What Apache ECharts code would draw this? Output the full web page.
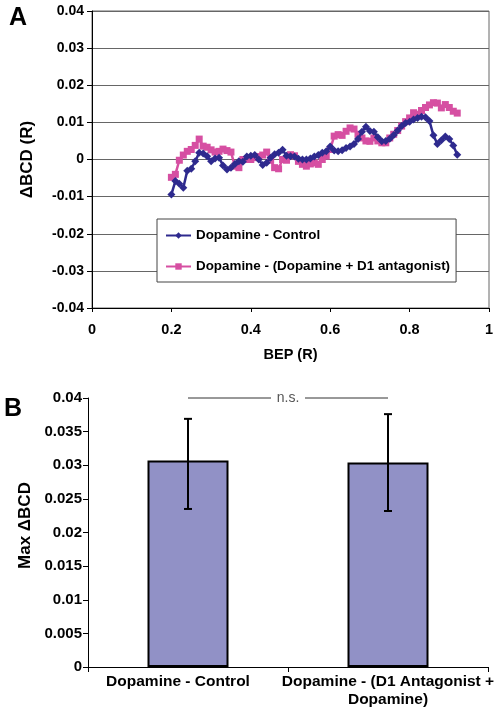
<!DOCTYPE html>
<html>
<head>
<meta charset="utf-8">
<script src="https://cdn.jsdelivr.net/npm/echarts@6/dist/echarts.min.js"></script>
<style>html,body{margin:0;padding:0;background:#fff;}#c{width:498px;height:712px;}</style>
</head>
<body>
<div id="c"></div>
<script>
// ---- Panel A data ----
var bepX = [0.20,0.21,0.22,0.23,0.24,0.25,0.26,0.27,0.28,0.29,0.30,0.31,0.32,0.33,0.34,0.35,0.36,0.37,0.38,0.39,0.40,0.41,0.42,0.43,0.44,0.45,0.46,0.47,0.48,0.49,0.50,0.51,0.52,0.53,0.54,0.55,0.56,0.57,0.58,0.59,0.60,0.61,0.62,0.63,0.64,0.65,0.66,0.67,0.68,0.69,0.70,0.71,0.72,0.73,0.74,0.75,0.76,0.77,0.78,0.79,0.80,0.81,0.82,0.83,0.84,0.85,0.86,0.87,0.88,0.89,0.90,0.91,0.92];
var controlY = [-0.0094,-0.0058,-0.0065,-0.0076,-0.0030,-0.0025,-0.0005,0.0018,0.0016,0.0009,-0.0005,0.0003,0.0005,-0.0016,-0.0027,-0.0022,-0.0012,-0.0005,-0.0006,0.0008,0.0010,0.0012,0.0000,-0.0015,-0.0009,0.0005,0.0014,0.0018,0.0026,0.0010,0.0009,0.0008,0.0002,0.0000,0.0000,0.0003,0.0008,0.0012,0.0018,0.0022,0.0035,0.0024,0.0022,0.0025,0.0031,0.0035,0.0042,0.0055,0.0075,0.0088,0.0077,0.0075,0.0060,0.0049,0.0050,0.0056,0.0066,0.0078,0.0090,0.0098,0.0102,0.0108,0.0112,0.0115,0.0114,0.0104,0.0065,0.0042,0.0052,0.0062,0.0055,0.0038,0.0013];
var antagonistY = [-0.0048,-0.0040,-0.0002,0.0012,0.0022,0.0027,0.0038,0.0055,0.0036,0.0033,0.0026,0.0020,0.0022,0.0028,0.0024,0.0020,-0.0018,-0.0022,0.0000,0.0000,0.0000,0.0005,0.0008,0.0012,0.0020,-0.0002,-0.0022,-0.0025,0.0000,-0.0002,0.0013,0.0010,-0.0005,-0.0013,-0.0018,-0.0012,-0.0009,-0.0013,0.0000,0.0009,0.0027,0.0063,0.0067,0.0065,0.0076,0.0085,0.0082,0.0068,0.0058,0.0050,0.0049,0.0058,0.0050,0.0045,0.0045,0.0058,0.0068,0.0078,0.0090,0.0102,0.0112,0.0126,0.0122,0.0132,0.0140,0.0147,0.0153,0.0152,0.0139,0.0148,0.0140,0.0130,0.0125];
var seriesNamesA = ['Dopamine - Control', 'Dopamine - (Dopamine + D1 antagonist)'];

// ---- Panel B data ----
var barCategories = ['Dopamine - Control', 'Dopamine - (D1 Antagonist +\nDopamine)'];
var barValues = [0.0307, 0.0304];
var errLow = [0.0235, 0.0232];
var errHigh = [0.0369, 0.0376];
var sigLabel = 'n.s.';

function zip(xs, ys){ var out=[]; for(var i=0;i<xs.length;i++){ out.push([xs[i], ys[i]]); } return out; }

var FONT = 'Liberation Sans, Arial, sans-serif';
var chart = echarts.init(document.getElementById('c'), null, {renderer:'canvas'});

var errData = barValues.map(function(v,i){ return [i, v, errLow[i], errHigh[i]]; });

var option = {
  animation: false,
  backgroundColor: '#ffffff',
  textStyle: {fontFamily: FONT},
  graphic: [
    {type:'text', left: 9, top: 6, style:{text:'A', font:'bold 25px ' + FONT, fill:'#000'}},
    {type:'text', left: 4, top: 397, style:{text:'B', font:'bold 25px ' + FONT, fill:'#000'}}
  ],
  legend: {
    data: seriesNamesA,
    orient: 'vertical',
    left: 157, top: 219,
    backgroundColor: '#fff',
    borderColor: '#444', borderWidth: 1,
    padding: [10, 6, 9, 8],
    itemGap: 18,
    itemWidth: 25, itemHeight: 8,
    textStyle: {fontFamily: FONT, fontWeight:'bold', fontSize: 13.4, color:'#000'}
  },
  grid: [
    {left: 92, top: 11, width: 397, height: 297, show: true, borderColor: '#666', borderWidth: 1, backgroundColor:'transparent'},
    {left: 88, top: 398, width: 400, height: 269}
  ],
  xAxis: [
    {
      gridIndex: 0, type: 'value', min: 0, max: 1, interval: 0.2,
      name: 'BEP (R)', nameLocation: 'middle', nameGap: 39,
      nameTextStyle: {fontFamily: FONT, fontWeight:'bold', fontSize: 14.5, color:'#000'},
      axisLine: {show: true, onZero: false, lineStyle: {color:'#000', width: 1}},
      axisTick: {show: true, length: 4, lineStyle: {color:'#000'}},
      axisLabel: {margin: 14, fontFamily: FONT, fontWeight:'bold', fontSize: 14.5, color:'#000'},
      splitLine: {show: false}
    },
    {
      gridIndex: 1, type: 'category', data: barCategories,
      axisLine: {show: true, lineStyle: {color:'#000', width: 1}},
      axisTick: {show: true, length: 5, alignWithLabel: false, lineStyle: {color:'#000'}},
      axisLabel: {
        margin: 6, interval: 0, fontFamily: FONT, fontWeight:'bold', fontSize: 15.5, color:'#000', lineHeight: 18,
        formatter: function(v, i){ return i === 0 ? '{a|' + v + '}' : v; },
        rich: {a: {fontFamily: FONT, fontWeight:'bold', fontSize: 15.5, color:'#000', padding:[0,20,0,0]}}
      },
      splitLine: {show: false}
    }
  ],
  yAxis: [
    {
      gridIndex: 0, type: 'value', min: -0.04, max: 0.04, interval: 0.01,
      name: 'ΔBCD (R)', nameLocation: 'middle', nameGap: 56, nameRotate: 90,
      nameTextStyle: {fontFamily: FONT, fontWeight:'bold', fontSize: 17, color:'#000'},
      axisLine: {show: true, onZero: false, lineStyle: {color:'#000', width: 1}},
      axisTick: {show: true, length: 5, lineStyle: {color:'#000'}},
      axisLabel: {margin: 8, fontFamily: FONT, fontWeight:'bold', fontSize: 14, color:'#000'},
      splitLine: {show: true, lineStyle: {color:'#666', width: 1}}
    },
    {
      gridIndex: 1, type: 'value', min: 0, max: 0.04, interval: 0.005,
      name: 'Max ΔBCD', nameLocation: 'middle', nameGap: 49, nameRotate: 90,
      nameTextStyle: {fontFamily: FONT, fontWeight:'bold', fontSize: 17, color:'#000', padding:[0,0,0,14]},
      axisLine: {show: true, lineStyle: {color:'#000', width: 1}},
      axisTick: {show: true, length: 5, lineStyle: {color:'#000'}},
      axisLabel: {margin: 6, fontFamily: FONT, fontWeight:'bold', fontSize: 15, color:'#000'},
      splitLine: {show: false}
    }
  ],
  series: [
    {
      name: seriesNamesA[0], type: 'line', xAxisIndex: 0, yAxisIndex: 0,
      data: zip(bepX, controlY),
      symbol: 'diamond', symbolSize: 8, showSymbol: true,
      lineStyle: {color:'#2E2A8E', width: 2.5},
      itemStyle: {color:'#2E2A8E'},
      z: 3
    },
    {
      name: seriesNamesA[1], type: 'line', xAxisIndex: 0, yAxisIndex: 0,
      data: zip(bepX, antagonistY),
      symbol: 'rect', symbolSize: 7, showSymbol: true,
      lineStyle: {color:'#D64FA2', width: 2.5},
      itemStyle: {color:'#D64FA2'},
      z: 2
    },
    {
      type: 'bar', xAxisIndex: 1, yAxisIndex: 1,
      data: barValues, barWidth: 81,
      itemStyle: {color:'#9191C6', borderColor:'#000', borderWidth: 2},
      z: 2
    },
    {
      type: 'custom', xAxisIndex: 1, yAxisIndex: 1,
      data: errData,
      z: 5,
      renderItem: function(params, api){
        var x = api.value(0);
        var lo = api.coord([x, api.value(2)]);
        var hi = api.coord([x, api.value(3)]);
        var cw = 4;
        var st = {stroke:'#000', lineWidth: 2};
        return {type:'group', children:[
          {type:'line', shape:{x1:lo[0], y1:lo[1], x2:hi[0], y2:hi[1]}, style: st},
          {type:'line', shape:{x1:lo[0]-cw, y1:lo[1], x2:lo[0]+cw, y2:lo[1]}, style: st},
          {type:'line', shape:{x1:hi[0]-cw, y1:hi[1], x2:hi[0]+cw, y2:hi[1]}, style: st}
        ]};
      }
    },
    {
      type: 'custom', xAxisIndex: 1, yAxisIndex: 1,
      data: [[0, 1, 0.04]],
      z: 5,
      renderItem: function(params, api){
        var a = api.coord([api.value(0), api.value(2)]);
        var b = api.coord([api.value(1), api.value(2)]);
        var mid = (a[0] + b[0]) / 2;
        var gap = 17;
        var st = {stroke:'#333', lineWidth: 1};
        return {type:'group', children:[
          {type:'line', shape:{x1:a[0], y1:a[1], x2:mid-gap, y2:a[1]}, style: st},
          {type:'line', shape:{x1:mid+gap, y1:b[1], x2:b[0], y2:b[1]}, style: st},
          {type:'text', style:{text: sigLabel, x: mid, y: a[1], align:'center', verticalAlign:'middle', font:'14px ' + FONT, fill:'#555'}}
        ]};
      }
    }
  ]
};
chart.setOption(option);
</script>
</body>
</html>
